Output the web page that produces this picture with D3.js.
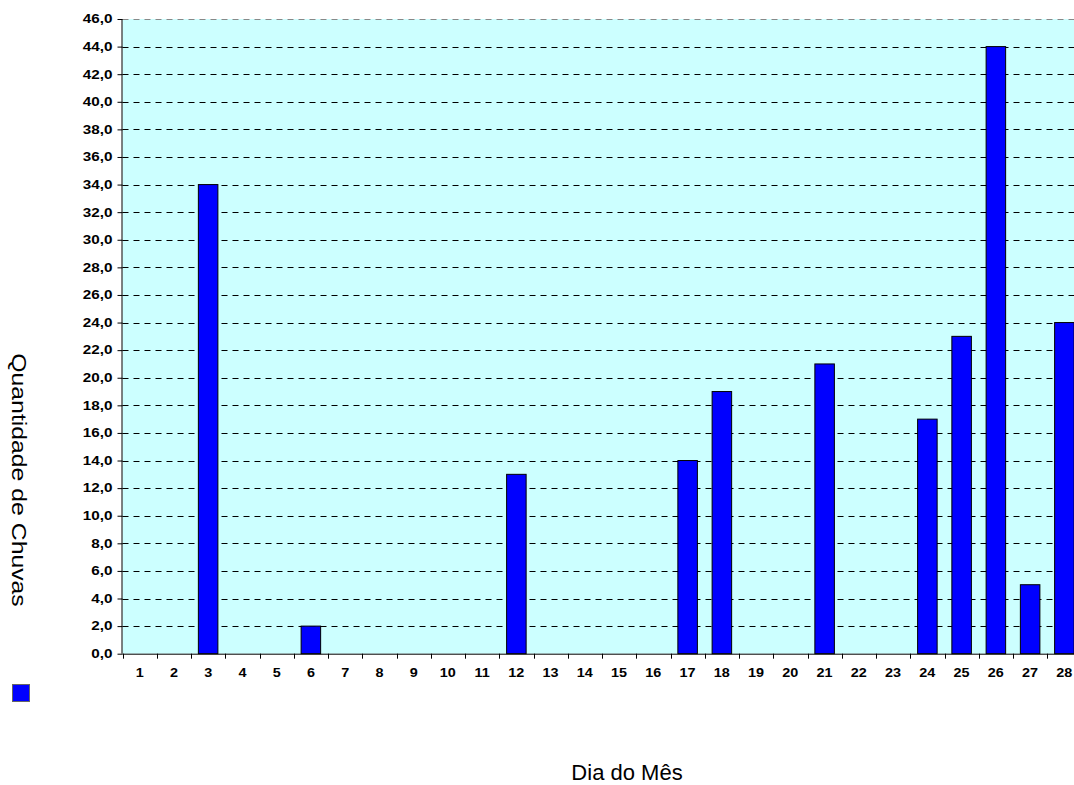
<!DOCTYPE html>
<html><head><meta charset="utf-8">
<script src="https://cdn.jsdelivr.net/npm/d3@7"></script>
<style>body{margin:0;background:#fff;overflow:hidden}svg{display:block}</style>
</head><body>
<svg id="c" width="1074" height="785"></svg>
<script>
const days = d3.range(1, 29).map(String);
const rain = [0,0,34,0,0,2,0,0,0,0,0,13,0,0,0,0,14,19,0,0,21,0,0,17,23,44,5,24];
const yTicks = d3.range(0, 47, 2);
const yLabel = "Quantidade de Chuvas";
const xLabel = "Dia do Mês";

const FONT = "Arial, 'Liberation Sans', sans-serif";
const svg = d3.select("#c");
const pL = 122.5, pT = 19, pB = 653.7, bandW = 34.25;
const pR = pL + bandW * days.length;

const x = d3.scaleBand().domain(days).range([pL, pR]).paddingInner(0.43).paddingOuter(0.215);
const xb = d3.scaleBand().domain(days).range([pL, pR]);
const y = d3.scaleLinear().domain([0, 46]).range([pB, pT]);

function stretch(sel, f) {
  sel.each(function () {
    const w = this.getComputedTextLength();
    d3.select(this).attr("textLength", w * f).attr("lengthAdjust", "spacingAndGlyphs");
  });
}

svg.append("rect").attr("x", pL).attr("y", pT).attr("width", pR - pL).attr("height", pB - pT).attr("fill", "#ccffff");

// gridlines
svg.append("g").selectAll("line").data(yTicks.filter(d => d > 0)).join("line")
  .attr("x1", pL).attr("x2", pR).attr("y1", d => Math.round(y(d)) + 0.5).attr("y2", d => Math.round(y(d)) + 0.5)
  .attr("stroke", d => d === 46 ? "#888" : "#000").attr("stroke-width", 1).attr("stroke-dasharray", "6,5");

// bars
svg.append("g").selectAll("rect").data(days.filter((d, i) => rain[i] > 0)).join("rect")
  .attr("x", d => x(d)).attr("width", x.bandwidth())
  .attr("y", d => y(rain[days.indexOf(d)])).attr("height", d => pB - y(rain[days.indexOf(d)]))
  .attr("fill", "#0000ff").attr("stroke", "#000").attr("stroke-width", 1);

// y axis
const ya = svg.append("g").attr("transform", `translate(${pL},0)`)
  .call(d3.axisLeft(y).tickValues(yTicks).tickSize(5).tickPadding(5).tickFormat(d => d3.format(".1f")(d).replace(".", ",")));
ya.select(".domain").attr("d", `M-0.5,${pT}V${pB}`).attr("stroke", "#000");
ya.selectAll("text").attr("font-family", FONT).attr("font-size", 12).attr("font-weight", "bold").attr("fill", "#000").call(stretch, 1.27);

// x axis
const xa = svg.append("g").attr("transform", `translate(0,${pB})`)
  .call(d3.axisBottom(xb).tickSize(0).tickPadding(14.5));
xa.select(".domain").attr("d", `M${pL},0.5H${pR}`).attr("stroke", "#000");
xa.selectAll("text").attr("font-family", FONT).attr("font-size", 12).attr("font-weight", "bold").attr("fill", "#000").call(stretch, 1.2);
svg.append("g").selectAll("line").data(d3.range(days.length + 1)).join("line")
  .attr("x1", i => Math.round(xb.step() * i + pL) + 0.5).attr("x2", i => Math.round(xb.step() * i + pL) + 0.5)
  .attr("y1", pB).attr("y2", pB + 5).attr("stroke", "#000");

// labels
svg.append("text").attr("transform", "translate(12,480) rotate(90)").attr("text-anchor", "middle")
  .attr("font-family", FONT).attr("font-size", 21).attr("fill", "#000").text(yLabel).call(stretch, 1.18);
svg.append("text").attr("x", 627).attr("y", 780).attr("text-anchor", "middle")
  .attr("font-family", FONT).attr("font-size", 22).attr("fill", "#000").text(xLabel);

// legend
svg.append("rect").attr("x", 12.5).attr("y", 684.5).attr("width", 17).attr("height", 17)
  .attr("fill", "#0000ff").attr("stroke", "#666").attr("stroke-width", 1);
</script>
</body></html>
